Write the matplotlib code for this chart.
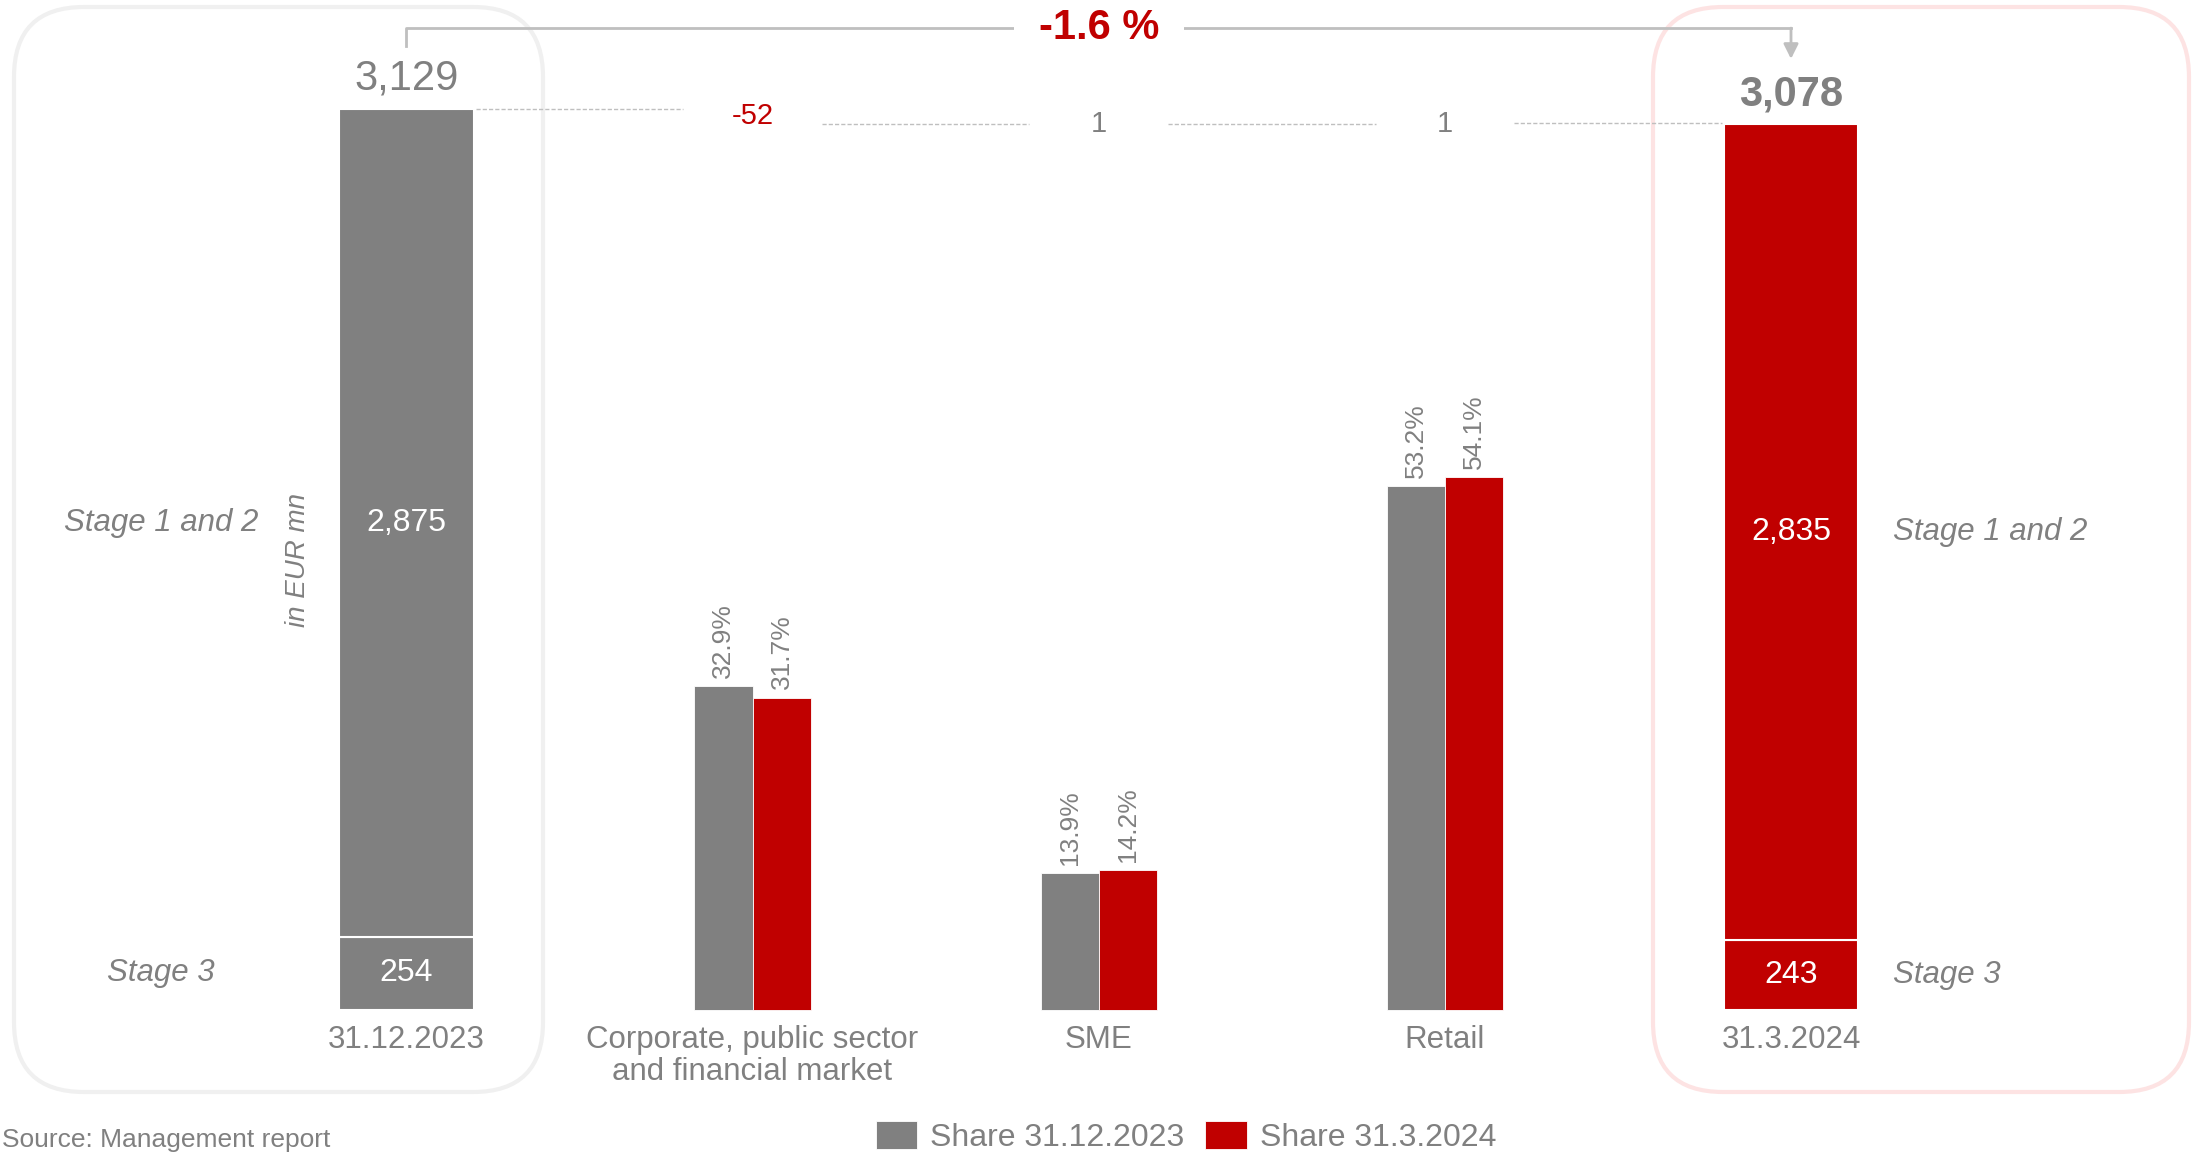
import numpy as np
import matplotlib.pyplot as plt
from matplotlib.patches import FancyBboxPatch

plt.rcParams['font.family'] = ['Liberation Sans', 'DejaVu Sans']

# stages at both dates, in EUR mn
dates = ['31.12.2023', '31.3.2024']
stage_12 = [2875, 2835]
stage_3 = [254, 243]
totals = [3129, 3078]
change = '-1.6 %'

# bridge by segment + share of total
segments = ['Corporate, public sector\nand financial market', 'SME', 'Retail']
deltas = [-52, 1, 1]
share_2023 = [32.9, 13.9, 53.2]
share_2024 = [31.7, 14.2, 54.1]

GREY = '#808080'
RED = '#C00000'
LIGHT = '#BFBFBF'

fig = plt.figure(figsize=(21.96, 11.55), dpi=100)
ax = fig.add_axes([0, 0, 1, 1])
ax2 = ax.twinx()
for a in (ax, ax2):
    a.set_axis_off()

# axis scaling so that amounts and shares sit on the same baseline
px0, step = 406.4, 346.15
ax.set_xlim(-px0 / step, (2196 - px0) / step)
ax.set_ylim(-145 / 0.28795, 1010 / 0.28795)
ax2.set_ylim(-145 / 9.85, 1010 / 9.85)

xs = np.arange(len(segments) + 2)
big = [xs[0], xs[-1]]
seg_x = xs[1:-1]

# (1). stacked total bars
bw = 0.39
ax.bar(big, stage_3, bw, color=[GREY, RED], edgecolor='white', linewidth=1.5)
ax.bar(big, stage_12, bw, bottom=stage_3, color=[GREY, RED], edgecolor='white', linewidth=1.5)

for x, s3, s12 in zip(big, stage_3, stage_12):
    ax.text(x, s3 / 2, f'{s3:,}', ha='center', va='center', color='white', fontsize=23)
    ax.text(x, s3 + s12 / 2, f'{s12:,}', ha='center', va='center', color='white', fontsize=23)

ax.annotate(f'{totals[0]:,}', (xs[0], totals[0]), xytext=(0, 22), textcoords='offset points',
            ha='center', va='center', fontsize=30, color=GREY)
ax.annotate(f'{totals[1]:,}', (xs[-1], totals[1]), xytext=(0, 21), textcoords='offset points',
            ha='center', va='center', fontsize=30, color=GREY, fontweight='bold')

# stage labels left / right
ax.annotate('Stage 1 and 2', (xs[0], stage_3[0] + stage_12[0] / 2), xytext=(-176.7, 0), textcoords='offset points',
            ha='center', va='center', fontsize=22.5, style='italic', color=GREY)
ax.annotate('Stage 3', (xs[0], stage_3[0] / 2), xytext=(-176.7, 0), textcoords='offset points',
            ha='center', va='center', fontsize=22.5, style='italic', color=GREY)
ax.annotate('Stage 1 and 2', (xs[-1], stage_3[1] + stage_12[1] / 2), xytext=(73.4, 0), textcoords='offset points',
            ha='left', va='center', fontsize=22.5, style='italic', color=GREY)
ax.annotate('Stage 3', (xs[-1], stage_3[1] / 2), xytext=(73.4, 0), textcoords='offset points',
            ha='left', va='center', fontsize=22.5, style='italic', color=GREY)
ax.annotate('in EUR mn', (xs[0], totals[0] / 2), xytext=(-78, 0), textcoords='offset points',
            ha='center', va='center', rotation=90, fontsize=20, style='italic', color=GREY)

# (2). waterfall connectors and deltas
levels = np.concatenate([[totals[0]], totals[0] + np.cumsum(deltas)])
for i in range(len(levels)):
    ax.plot([xs[i] + 0.2, xs[i] + 0.8], [levels[i]] * 2, color=LIGHT, lw=1, ls=(0, (3, 1.5)))
for i, d in enumerate(deltas):
    ax.text(seg_x[i], (levels[i] + levels[i + 1]) / 2, f'{d:,}', ha='center', va='center',
            fontsize=21, color=RED if d < 0 else GREY)

# (3). segment share bars
sw = 0.168
b1 = ax2.bar(seg_x - sw / 2, share_2023, sw, color=GREY, edgecolor='white', linewidth=0.6, label='Share 31.12.2023')
b2 = ax2.bar(seg_x + sw / 2, share_2024, sw, color=RED, edgecolor='white', linewidth=0.6, label='Share 31.3.2024')
for xx, vals in ((seg_x - sw / 2, share_2023), (seg_x + sw / 2, share_2024)):
    for x, v in zip(xx, vals):
        ax2.annotate(f'{v:.1f}%', (x, v), xytext=(0, 6), textcoords='offset points', rotation=90,
                     ha='center', va='bottom', fontsize=19, color=GREY)

# category labels under the bars
for x, lab in zip(xs, [dates[0]] + segments + [dates[1]]):
    ax.annotate(lab, (x, 0), xytext=(0, -11), textcoords='offset points', ha='center', va='top',
                fontsize=22.5, color=GREY, linespacing=1.08)

# (4). bracket with overall change
y_top = 3410
ax.plot([xs[0], xs[0], xs[-1]], [3348, y_top, y_top], color=LIGHT, lw=2)
ax.annotate('', xy=(xs[-1], 3303), xytext=(xs[-1], y_top),
            arrowprops=dict(arrowstyle='-|>', color=LIGHT, lw=2, mutation_scale=22, shrinkA=0, shrinkB=0))
ax.text((xs[0] + xs[-1]) / 2, y_top, change, ha='center', va='center', fontsize=30, fontweight='bold',
        color=RED, bbox=dict(boxstyle='square,pad=0.6', fc='white', ec='none'))

# rounded frames around the two dates
for (x0, x1), col in (((0.14, 5.43), '#F0F0F0'), ((16.53, 21.89), '#FDE3E3')):
    box = FancyBboxPatch((x0, 0.63), x1 - x0, 11.48 - 0.63, boxstyle='round,pad=0,rounding_size=0.7',
                         transform=fig.dpi_scale_trans, fill=False, ec=col, lw=3, zorder=-1)
    fig.add_artist(box)

fig.legend(handles=[b1, b2], loc='center', bbox_to_anchor=(0.54, 0.0156), ncol=2, frameon=False,
           fontsize=23, handlelength=1.3, handleheight=1.0, handletextpad=0.4, columnspacing=0.66,
           labelcolor=GREY, borderpad=0, borderaxespad=0)
fig.text(0.001, 15 / 1155, 'Source: Management report', fontsize=19, color=GREY, ha='left', va='center')

fig.savefig('out.png', dpi=100)
